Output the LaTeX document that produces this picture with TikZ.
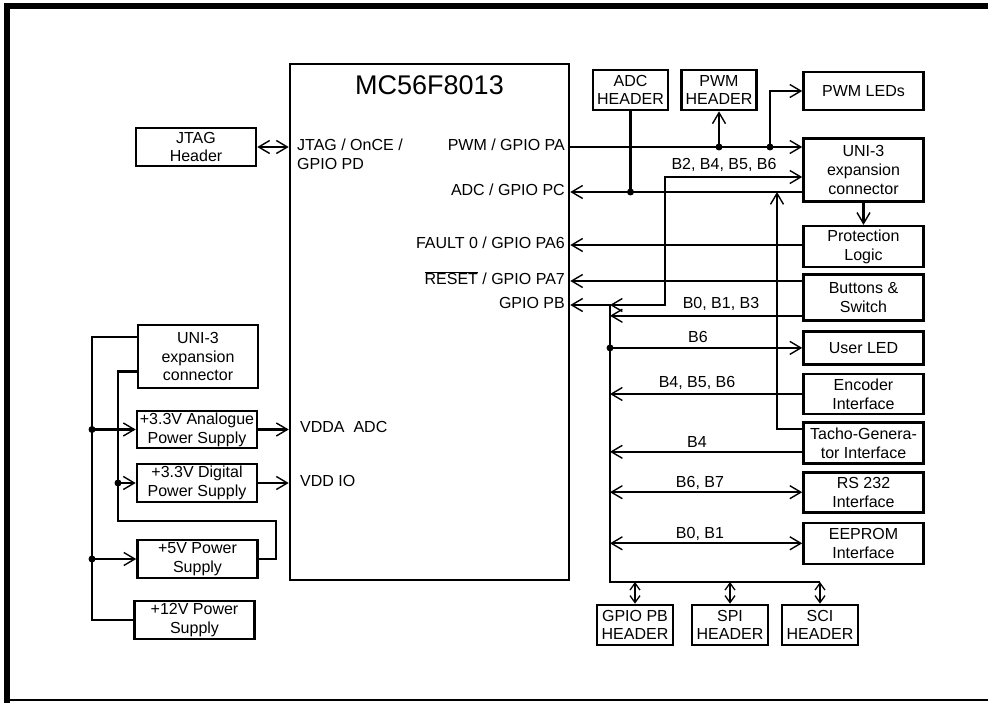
\documentclass[tikz,border=0pt]{standalone}
\usepackage{fontspec}
\setmainfont{Liberation Sans}
\usetikzlibrary{arrows.meta, positioning, calc}

\begin{document}
\begin{tikzpicture}[
    x=1pt, y=-1pt,
    font=\fontsize{16}{18.8}\selectfont,
    blk/.style={draw, line width=2.6pt, minimum width=120pt, minimum height=40pt,
                align=center, inner sep=1pt},
    hdr/.style={blk, minimum width=75pt},
    lbl/.style={inner sep=0pt, text height=0.72em, text depth=0pt},
    wire/.style={line width=2.2pt},
    arr/.style={wire, -{Straight Barb[length=11pt, width=13pt, line width=1.4pt]}},
    dbl/.style={wire, {Straight Barb[length=11pt, width=13pt, line width=1.4pt]}-{Straight Barb[length=11pt, width=13pt, line width=1.4pt]}},
    sdbl/.style={wire, {Straight Barb[length=7pt, width=10pt, line width=1.3pt]}-{Straight Barb[length=7pt, width=10pt, line width=1.3pt]}},
  ]
  \useasboundingbox (0,0) rectangle (988,703);
  \fill[white] (0,0) rectangle (988,703);
  \draw[line width=6pt] (7,703) -- (7,6.5) -- (988,6.5);
  \draw[line width=1.5pt] (7,700) -- (988,700);

  \node[blk, minimum width=279pt, minimum height=516pt] (mcu) at (429.5,322) {};
  \node[font=\fontsize{27}{32}\selectfont] (title) at (429.5,85) {MC56F8013};

  \node[lbl, anchor=west] (pd1) at (297,147) {JTAG / OnCE /};
  \node[lbl, anchor=west] (pd2) at (297,166) {GPIO PD};
  \node[lbl, anchor=east] (pa) at (565,147) {PWM / GPIO PA};
  \node[lbl, anchor=east] (pc) at (565,192) {ADC / GPIO PC};
  \node[lbl, anchor=east] (pa6) at (565,245) {FAULT 0 / GPIO PA6};
  \node[lbl, anchor=east] (pa7) at (565,281) {$\overline{\mbox{RESET}}$ / GPIO PA7};
  \node[lbl, anchor=east] (pb) at (565,305) {GPIO PB};
  \node[lbl, anchor=west] (vdda) at (300,429) {VDDA\ \ ADC};
  \node[lbl, anchor=west] (vdd) at (300,483) {VDD IO};

  \node[blk, minimum height=38pt] (jtag) at (196,147) {JTAG\\Header};

  \node[hdr] (adch) at (630.5,90) {ADC\\HEADER};
  \node[hdr] (pwmh) at (719,90) {PWM\\HEADER};

  \node[blk, minimum height=38pt] (leds) at (863.5,91) {PWM LEDs};
  \node[blk, minimum height=63pt, below=26pt of leds] (unir) {UNI-3\\expansion\\connector};
  \node[blk, minimum height=41pt, below=22pt of unir] (prot) {Protection\\Logic};
  \node[blk, minimum height=46pt, below=5pt of prot] (btn) {Buttons \&\\Switch};
  \node[blk, minimum height=33pt, below=8pt of btn] (uled) {User LED};
  \node[blk, below=7pt of uled] (enc) {Encoder\\Interface};
  \node[blk, minimum height=41pt, below=6pt of enc] (tacho) {Tacho-Genera-\\tor Interface};
  \node[blk, below=6pt of tacho] (rs) {RS 232\\Interface};
  \node[blk, minimum height=41pt, below=8pt of rs] (eep) {EEPROM\\Interface};

  \node[hdr, minimum width=76pt] (gph) at (635,625) {GPIO PB\\HEADER};
  \node[hdr, minimum width=76pt] (spih) at (730,625) {SPI\\HEADER};
  \node[hdr, minimum width=76pt] (scih) at (820,625) {SCI\\HEADER};

  \node[blk, minimum height=63pt] (unil) at (198,356.5) {UNI-3\\expansion\\connector};
  \node[blk, minimum height=37pt] (ana) at (197,429.5) {+3.3V Analogue\\Power Supply};
  \node[blk, minimum height=38pt] (dig) at (197,483) {+3.3V Digital\\Power Supply};
  \node[blk, minimum height=38pt] (p5) at (197.5,559) {+5V Power\\Supply};
  \node[blk, minimum height=38pt] (p12) at (194.5,620) {+12V Power\\Supply};

  \coordinate (bus) at (610,305);
  \coordinate (busbot) at (610,582);
  \coordinate (b2turn) at (665,177);
  \coordinate (tj) at (777,192);
  \coordinate (ledj) at (770,147);
  \coordinate (lv1) at (92,338);
  \coordinate (lv2) at (118,521);
  \coordinate (lv2r) at (276,521);
  \coordinate (b013) at ($(btn.north west)!0.87!(btn.south west)$);
  \coordinate (tin) at ($(tacho.north west)!0.17!(tacho.south west)$);
  \coordinate (tout) at ($(tacho.north west)!0.7!(tacho.south west)$);
  \coordinate (u1) at ($(unil.north west)!0.2!(unil.south west)$);
  \coordinate (u2) at ($(unil.north west)!0.73!(unil.south west)$);

  \draw[dbl] (jtag.east) -- (jtag.east -| mcu.west);

  \draw[arr] (mcu.east |- pa) -- (unir.west |- pa);
  \draw[arr] (pwmh.south |- pa) -- (pwmh.south);
  \draw[arr] (ledj) |- (leds.west);
  \fill (pwmh.south |- pa) circle[radius=3.5pt] (ledj) circle[radius=3.5pt];

  \draw[arr] (unir.west |- pc) -- (mcu.east |- pc);
  \draw[wire] (adch.south) -- (adch.south |- pc);
  \fill (adch.south |- pc) circle[radius=3.5pt];

  \draw[dbl] (unir.west |- b2turn) -- (b2turn) |- (bus);
  \node[lbl] (lb2) at (724,166) {B2, B4, B5, B6};

  \draw[arr] (unir.south) -- (prot.north);
  \draw[arr] (prot.west |- pa6) -- (mcu.east |- pa6);
  \draw[arr] (btn.west |- pa7) -- (mcu.east |- pa7);

  \draw[arr] (busbot -| scih.north) -- (busbot) -- (bus) -- (mcu.east |- bus);

  \draw[arr] (b013) -- (b013 -| bus);
  \node[lbl] (lb013) at (721,305) {B0, B1, B3};
  \draw[arr] (uled.west -| bus) -- (uled.west);
  \fill (uled.west -| bus) circle[radius=3.5pt];
  \node[lbl] (lb6) at (698,339) {B6};
  \draw[arr] (enc.west) -- (enc.west -| bus);
  \node[lbl] (lb456) at (697,384) {B4, B5, B6};
  \draw[arr] (tin) -| (tj);
  \draw[arr] (tout) -- (tout -| bus);
  \node[lbl] (lb4) at (697,444) {B4};
  \draw[dbl] (bus |- rs.west) -- (rs.west);
  \node[lbl] (lb67) at (700,484) {B6, B7};
  \draw[dbl] (bus |- eep.west) -- (eep.west);
  \node[lbl] (lb01) at (700,535) {B0, B1};

  \draw[sdbl] (busbot -| gph.north) -- (gph.north);
  \draw[sdbl] (busbot -| spih.north) -- (spih.north);
  \draw[sdbl] (busbot -| scih.north) -- (scih.north);

  \draw[wire] (u1) -| (p12.west -| lv1) -- (p12.west);
  \draw[arr] (ana.west -| lv1) -- (ana.west);
  \draw[arr] (p5.west -| lv1) -- (p5.west);
  \fill (ana.west -| lv1) circle[radius=3.5pt] (p5.west -| lv1) circle[radius=3.5pt];
  \draw[wire] (u2) -| (lv2) -- (lv2r) |- (p5.east);
  \draw[arr] (dig.west -| lv2) -- (dig.west);
  \fill (dig.west -| lv2) circle[radius=3.5pt];
  \draw[arr] (ana.east) -- (ana.east -| mcu.west);
  \draw[arr] (dig.east) -- (dig.east -| mcu.west);
\end{tikzpicture}
\end{document}
